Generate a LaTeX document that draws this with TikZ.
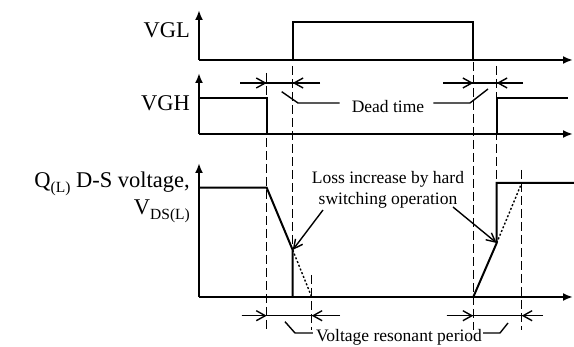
\documentclass[tikz,border=0pt]{standalone}
\usepackage{fontspec}
\setmainfont{Liberation Serif}
\usetikzlibrary{arrows.meta}
\newcommand{\lowsub}[1]{\raisebox{-0.45ex}{\fontsize{15.5}{15.5}\selectfont #1}}
\begin{document}
\begin{tikzpicture}[
        x=1pt,
        y=-1pt,
        axis/.style={
            -{Latex[length=10pt,width=8pt]},
            line width=2pt
        },
        wave/.style={
            line width=2pt,
            line join=miter
        },
        guide/.style={
            line width=1.4pt,
            dash pattern=on 9pt off 4pt
        },
        dotline/.style={
            line width=1.4pt,
            dash pattern=on 2pt off 2pt
        },
        dim/.style={
            line width=1.4pt
        },
        dimarrow/.style={
            -{Straight Barb[length=9pt,width=10pt,line width=1.4pt]},
            line width=1.4pt
        },
        leader/.style={
            line width=1.4pt
        },
        callout/.style={
            -{Straight Barb[length=9pt,width=9pt,line width=1.4pt]},
            line width=1.4pt
        },
        biglabel/.style={
            anchor=east,
            inner sep=0pt,
            font=\fontsize{22.5}{25}\selectfont
        },
        smalllabel/.style={
            inner sep=0pt,
            font=\fontsize{17.5}{20.5}\selectfont
        }
    ]

        \useasboundingbox (0,0) rectangle (574,347);

        % axes
        \coordinate (gl0) at (199,60);
        \coordinate (gh0) at (199,134);
        \coordinate (ds0) at (199,297);
        \draw[axis] (gl0) -- (199,10);
        \draw[axis] (gl0) -- (573,60);
        \draw[axis] (gh0) -- (199,73);
        \draw[axis] (gh0) -- (573,134);
        \draw[axis] (ds0) -- (199,163);
        \draw[axis] (ds0) -- (573,297);

        % labels of the axes
        \node[biglabel] (vgl) at (190,30) {VGL};
        \node[biglabel] (vgh) at (190,103) {VGH};
        \node[biglabel] (qds) at (190,184) {Q\lowsub{(L)} D-S voltage,};
        \node[biglabel] (vds) at (190,211) {V\lowsub{DS(L)}};

        % guide lines
        \draw[guide] (266.7,73) -- (266.7,330);
        \draw[guide] (292.7,66) -- (292.7,297);
        \draw[guide] (473.3,62) -- (473.3,330);
        \draw[guide] (496.7,66) -- (496.7,183);
        \draw[guide] (311.7,275) -- (311.7,330);
        \draw[guide] (521.7,170) -- (521.7,330);

        % gate waveforms
        \draw[wave] (gl0) -- (292.7,60) -- (292.7,22) -- (473.3,22) -- (473.3,60);
        \draw[wave] (199,98) -- (266.7,98) -- (266.7,134);
        \draw[wave] (496.7,134) -- (496.7,98) -- (568,98);

        % drain-source voltage
        \coordinate (hardL) at (292.7,250);
        \coordinate (hardR) at (496.7,243);
        \draw[wave] (199,187.7) -- (266.7,187.7) -- (hardL) -- (292.7,297);
        \draw[dotline] (hardL) -- (311.7,297);
        \draw[wave] (473.3,297) -- (hardR) -- (496.7,183) -- (574,183);
        \draw[dotline] (hardR) -- (521.7,183);

        % dead time dimensions
        \draw[dim] (240,83) -- (320,83);
        \draw[dimarrow] (240,83) -- (266.7,83);
        \draw[dimarrow] (320,83) -- (292.7,83);
        \draw[dim] (443,83) -- (523,83);
        \draw[dimarrow] (443,83) -- (473.3,83);
        \draw[dimarrow] (523,83) -- (496.7,83);

        \node[smalllabel] (dead) at (388,107) {Dead time};
        \draw[leader] (281.7,91.7) -- (298,103) -- ([xshift=-12pt]dead.west |- 0,103);
        \draw[leader] ([xshift=9pt]dead.east |- 0,103) -- (470,103) -- (488,89);

        % resonant period dimensions
        \draw[dim] (241.7,315.7) -- (340,315.7);
        \draw[dimarrow] (241.7,315.7) -- (266.7,315.7);
        \draw[dimarrow] (340,315.7) -- (311.7,315.7);
        \draw[dim] (446.7,315.7) -- (543,315.7);
        \draw[dimarrow] (446.7,315.7) -- (473.3,315.7);
        \draw[dimarrow] (543,315.7) -- (521.7,315.7);

        \node[smalllabel] (reson) at (399,337) {Voltage resonant period};
        \draw[leader] (285,321.7) -- (295,333) -- ([xshift=-3pt]reson.west |- 0,333);
        \draw[leader] ([xshift=1pt]reson.east |- 0,333) -- (500,333) -- (508,323);

        % hard switching callout
        \node[smalllabel, align=center] (loss) at (388,190) {Loss increase by hard\\switching operation};
        \draw[callout] (323,210) -- (hardL);
        \draw[callout] (453,207) -- (hardR);

    \end{tikzpicture}
\end{document}
